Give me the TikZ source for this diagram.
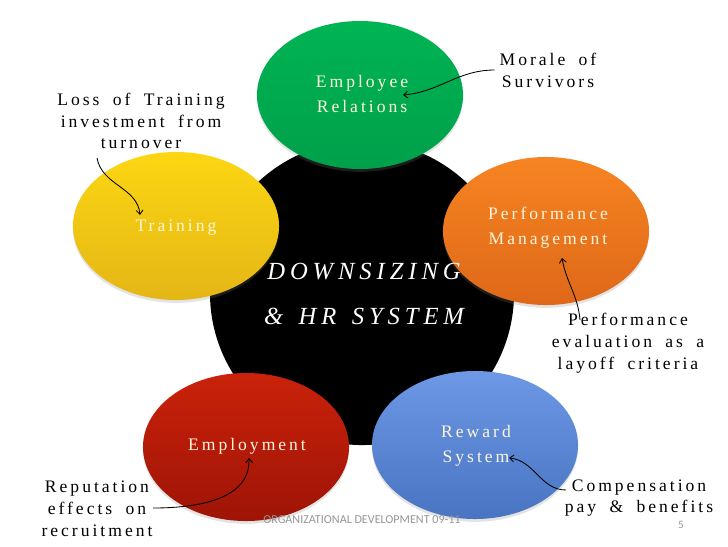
\documentclass[tikz,border=0pt]{standalone}
\usepackage{fontspec}
\setmainfont{Liberation Serif}
\newfontfamily\spacedfont{Liberation Serif}[LetterSpace=17,WordSpace=1.8]
\newfontfamily\titlefont{Liberation Serif}[LetterSpace=20,WordSpace=1.4]
\newfontfamily\footfont{Carlito}
\usetikzlibrary{shapes.geometric,arrows.meta,shadows}

\definecolor{greenA}{RGB}{0,180,84}
\definecolor{greenB}{RGB}{0,160,74}
\definecolor{yellowA}{RGB}{252,214,18}
\definecolor{yellowB}{RGB}{228,182,22}
\definecolor{orangeA}{RGB}{247,132,34}
\definecolor{orangeB}{RGB}{222,104,24}
\definecolor{redA}{RGB}{202,34,10}
\definecolor{redB}{RGB}{158,20,6}
\definecolor{blueA}{RGB}{108,152,230}
\definecolor{blueB}{RGB}{72,116,194}
\definecolor{cream}{RGB}{255,246,222}
\definecolor{footgray}{RGB}{150,150,150}

\tikzset{
  blob/.style={ellipse, minimum width=5.15cm, minimum height=3.7cm, inner sep=0pt,
    drop shadow={opacity=0.22, shadow xshift=0pt, shadow yshift=-2pt}},
  intext/.style={text=cream, align=center, font=\spacedfont\fontsize{12.5}{17.5}\selectfont},
  note/.style={align=center, font=\spacedfont\fontsize{12.5}{15.5}\selectfont},
  link/.style={-{Straight Barb[length=3pt,width=5pt]}, line width=0.6pt},
}

\begin{document}
\begin{tikzpicture}[x=0.025cm,y=-0.025cm]
  \useasboundingbox (0,0) rectangle (728,546);
  % centre
  \node[circle, fill=black, minimum size=7.6cm, inner sep=0pt] (core) at (362,293) {};
  % the five HR areas
  \node[blob, top color=greenA, bottom color=greenB] (relations) at (360,95) {};
  \node[blob, top color=yellowA, bottom color=yellowB] (training) at (176,226) {};
  \node[blob, top color=orangeA, bottom color=orangeB] (performance) at (546,231) {};
  \node[blob, top color=redA, bottom color=redB] (employment) at (246,447) {};
  \node[blob, top color=blueA, bottom color=blueB] (reward) at (475,445) {};

  \node[intext] (relText) at (362,94) {Employee\\Relations};
  \node[intext] (trainText) at (176,228) {Training};
  \node[intext] (perfText) at (548,228) {Performance\\Management};
  \node[intext] (emplText) at (247,446) {Employment};
  \node[intext] (rewText) at (476,446) {Reward\\System};
  \node[text=white, align=center, font=\titlefont\itshape\fontsize{17.5}{32.6}\selectfont] (title) at (364,294)
    {DOWNSIZING\\\& HR SYSTEM};

  % notes
  \node[note] (morale) at (548,70) {Morale of\\Survivors};
  \node[note] (loss) at (141,121) {Loss of Training\\investment from\\turnover};
  \node[note] (perfNote) at (628,343) {Performance\\evaluation as a\\layoff criteria};
  \node[note] (repNote) at (97,509) {Reputation\\effects on\\recruitment};
  \node[note] (compNote) at (639,498) {Compensation\\pay \& benefits};

  \coordinate (moraleTip) at (403,95);
  \coordinate (lossStart) at (97,158);
  \coordinate (lossTip) at (140,215);
  \coordinate (perfStart) at (580,320);
  \coordinate (perfTip) at (562,258);
  \coordinate (repStart) at (153,508);
  \coordinate (repTip) at (249,458);
  \coordinate (compStart) at (566,490);
  \coordinate (compTip) at (509,458);

  \draw[link] (morale.west) to[out=180,in=5] (moraleTip);
  \draw[link] (lossStart) to[out=-80,in=95] (lossTip);
  \draw[link] (perfStart) to[out=95,in=-80] (perfTip);
  \draw[link] (repStart) to[out=0,in=-88] (repTip);
  \draw[link] (compStart) to[out=180,in=-5] (compTip);

  % footer
  \node[text=footgray, font=\footfont\fontsize{8.6}{9}\selectfont] (foot) at (362,520) {ORGANIZATIONAL DEVELOPMENT 09-11};
  \node[text=footgray, font=\footfont\fontsize{8}{9}\selectfont] (page) at (681,525) {5};
\end{tikzpicture}
\end{document}
